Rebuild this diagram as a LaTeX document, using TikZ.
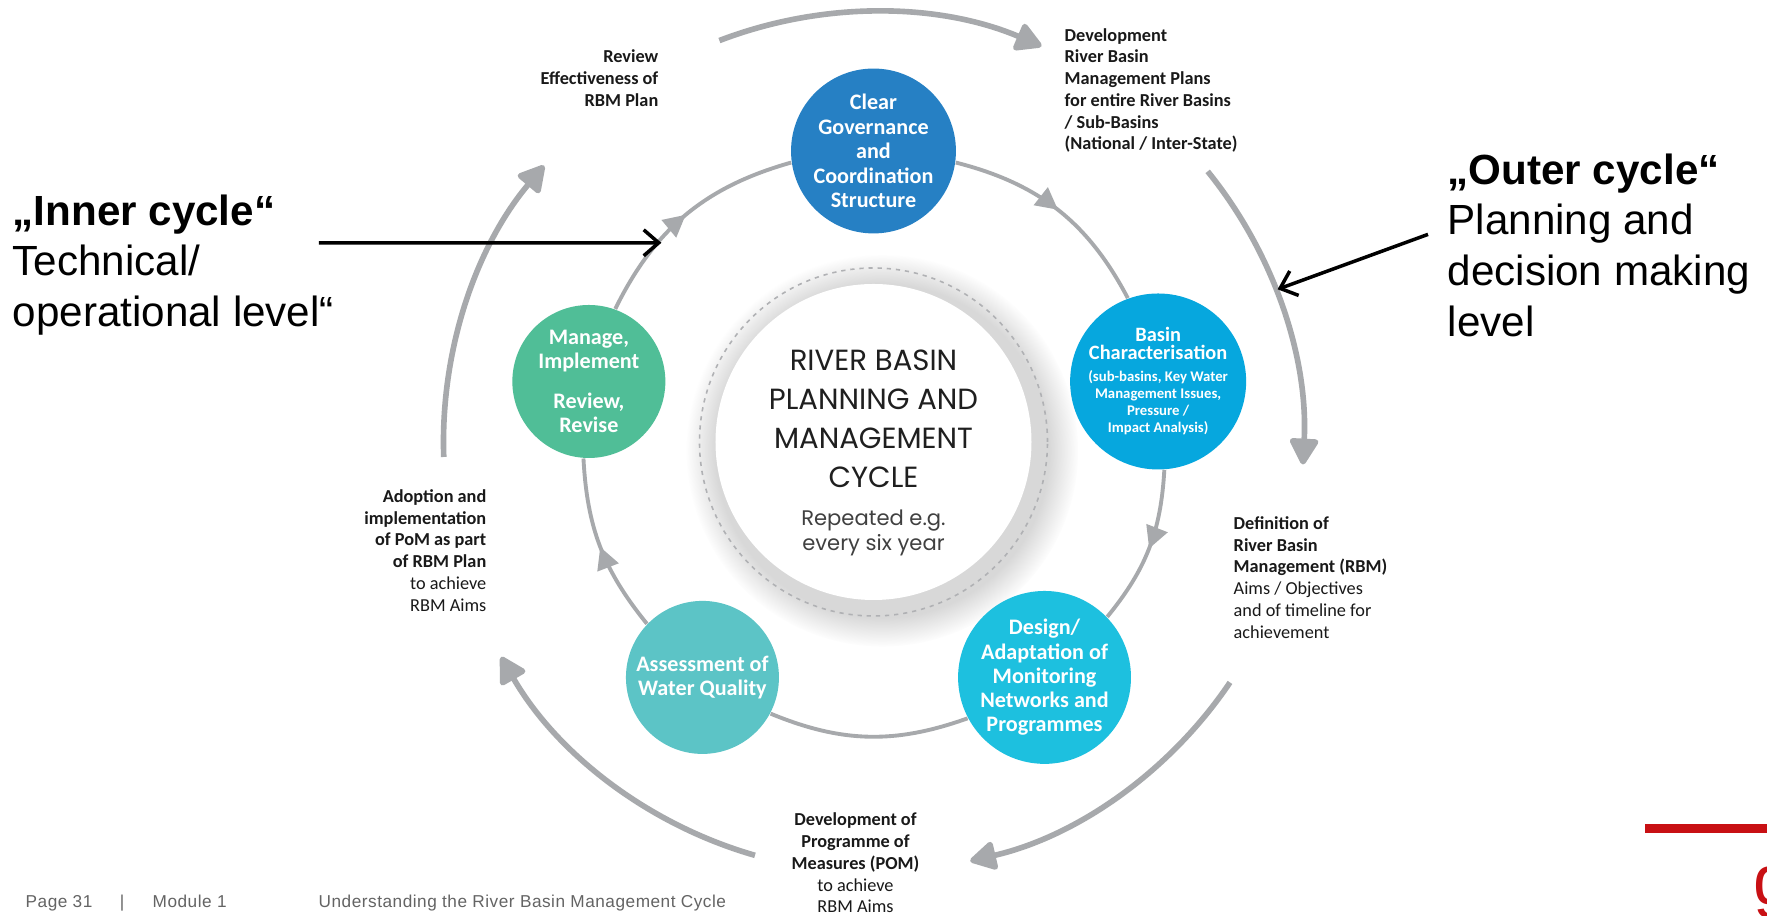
\documentclass[tikz,border=0pt]{standalone}
\usepackage{fontspec}
\setmainfont{Liberation Sans}
\newfontfamily\stagefont{Carlito}
\newfontfamily\hubfont{Poppins}
\newfontfamily\footfont[LetterSpace=3]{Liberation Sans}
\usetikzlibrary{arrows.meta,decorations.markings,shadows}
\lineskiplimit=-4pt

\definecolor{ringgray}{RGB}{167,169,172}
\definecolor{govblue}{RGB}{38,128,196}
\definecolor{basinblue}{RGB}{6,167,222}
\definecolor{designcyan}{RGB}{29,192,223}
\definecolor{assessteal}{RGB}{92,196,198}
\definecolor{managegreen}{RGB}{80,190,151}
\definecolor{gizred}{RGB}{200,16,20}
\definecolor{footgray}{RGB}{100,100,100}

\tikzset{
  stage/.style={circle, minimum size=1.53cm, inner sep=0pt, align=center, text=white,
    font=\stagefont\bfseries\fontsize{6.3}{7}\selectfont},
  ringline/.style={draw=ringgray, line width=1.1pt},
  ringedge/.style={ringline, postaction={decorate}, decoration={markings,
    mark=at position 0.5 with {\arrow[ringgray]{Triangle[length=2.2mm,width=2.2mm]}}}},
  outerarc/.style={draw=ringgray, line width=1.6pt, -{Triangle[length=2.9mm,width=3.1mm,round]}},
  steplabel/.style={inner sep=0pt, text=black!90, font=\stagefont\bfseries\fontsize{5.2}{6.2}\selectfont},
  callout/.style={draw=black, line width=1pt, -{Straight Barb[length=1.5mm,width=2.6mm]}},
  levellabel/.style={inner sep=0pt, align=left, anchor=north west, font=\fontsize{12}{14.4}\selectfont},
  footer/.style={inner sep=0pt, text=footgray, font=\footfont\fontsize{4.9}{6}\selectfont},
}
\def\outerarrow(#1:#2){\draw[outerarc] (#1:4.3) arc (#1:#2:4.3);}

\begin{document}
\begin{tikzpicture}
		%%%%% PAGE %%%%%
		\path[use as bounding box, fill=white] (-8.735,-4.74) rectangle (8.935,4.42);
		
		%%%%% HUB %%%%%
		\node[circle, fill=white, minimum size=3.16cm, circular drop shadow={shadow scale=1.24, shadow xshift=0.7mm, shadow yshift=-0.7mm, opacity=0.3}] (hub) at (0,0) {};
		\draw[ringgray!90, line width=0.45pt, dash pattern=on 1.2pt off 1.4pt] (hub.center) circle (1.74);
		\node[font=\hubfont\fontsize{8.3}{11.1}\selectfont, align=center, text=black!88] (hubtitle) at (0,0.235) {RIVER BASIN\\PLANNING AND\\MANAGEMENT\\CYCLE};
		\node[font=\hubfont\fontsize{6}{7.1}\selectfont, align=center, text=black!75] (hubsub) at (0,-0.905) {Repeated e.g.\\every six year};
		
		%%%%% INNER CYCLE %%%%%
		\node[stage, fill=govblue] (gov) at (90:2.91) {Clear\\Governance\\and\\Coordination\\Structure};
		\node[stage, fill=basinblue, font=\stagefont\bfseries\fontsize{4.2}{4.9}\selectfont] (basin) at (12:2.91)
			{{\fontsize{5.8}{5}\selectfont Basin}\\{\fontsize{5.8}{5}\selectfont Characterisation}\\[1.4pt](sub-basins, Key Water\\Management Issues,\\Pressure /\\Impact Analysis)};
		\node[stage, fill=designcyan, font=\stagefont\bfseries\fontsize{6.3}{6.9}\selectfont] (design) at (-54:2.91) {Design/\\Adaptation of\\Monitoring\\Networks and\\Programmes};
		\node[stage, fill=assessteal] (assess) at (-126:2.91) {Assessment of\\Water Quality};
		\node[stage, fill=managegreen] (manage) at (168:2.91) {Manage,\\Implement\\[4.2pt]Review,\\Revise};
		
		\draw[ringedge] (manage.70) to[bend left=24] (gov.188);
		\draw[ringedge] (gov.-8) to[bend left=24] (basin.110);
		\draw[ringedge] (basin.-86) to[bend left=18] (design.44);
		\draw[ringline] (design.-152) to[bend left=21] (assess.-28);
		\draw[ringedge] (assess.136) to[bend left=18] (manage.266);
		
		%%%%% OUTER CYCLE %%%%%
		\outerarrow(111:67)
		\outerarrow(39:-3)
		\outerarrow(-34:-77)
		\outerarrow(-106:-150)
		\outerarrow(182:140)
		
		\node[steplabel, align=right, anchor=east] (review) at (-2.145,3.64) {Review\\Effectiveness of\\RBM Plan};
		\node[steplabel, align=left, anchor=west] (devplan) at (1.905,3.515) {Development\\River Basin\\Management Plans\\for entire River Basins\\/ Sub-Basins\\(National / Inter-State)};
		\node[steplabel, align=left, anchor=west] (definition) at (3.595,-1.355) {Definition of\\River Basin\\Management (RBM)\\\mdseries Aims / Objectives\\\mdseries and of timeline for\\\mdseries achievement};
		\node[steplabel, align=center] (pom) at (-0.18,-4.21) {Development of\\Programme of\\Measures (POM)\\\mdseries to achieve\\\mdseries RBM Aims};
		\node[steplabel, align=right, anchor=east] (adoption) at (-3.865,-1.085) {Adoption and\\implementation\\of PoM as part\\of RBM Plan\\\mdseries to achieve\\\mdseries RBM Aims};
		
		%%%%% LEVELS %%%%%
		\node[levellabel] (innerlbl) at (-8.615,2.48) {\textbf{„Inner cycle“}\\Technical/\\operational level“};
		\node[levellabel] (outerlbl) at (5.735,2.89) {\textbf{„Outer cycle“}\\Planning and\\decision making\\level};
		\coordinate (innertail) at (-5.545,1.99);
		\coordinate (innerhead) at (136.8:2.91);
		\coordinate (outertail) at (5.545,2.076);
		\coordinate (outerhead) at (20.7:4.32);
		\draw[callout] (innertail) -- (innerhead);
		\draw[callout] (outertail) -- (outerhead);
		
		%%%%% FOOTER %%%%%
		\node[footer, anchor=base west] (page) at (-8.485,-4.656) {Page 31};
		\node[footer, anchor=base] (bar) at (-7.515,-4.656) {|};
		\node[footer, anchor=base west] (module) at (-7.215,-4.656) {Module 1};
		\node[footer, anchor=base west] (topic) at (-5.555,-4.656) {Understanding the River Basin Management Cycle};
		\fill[gizred] (7.715,-3.82) rectangle (8.935,-3.91);
		\node[anchor=base west, inner sep=0pt, text=gizred, font=\fontsize{20}{20}\selectfont] (logo) at (8.79,-4.63) {g};
		
		%%%%% END %%%%%
\end{tikzpicture}
\end{document}
